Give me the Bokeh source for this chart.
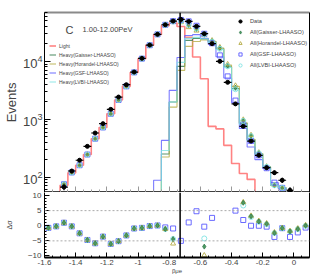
import numpy as np
from bokeh.plotting import figure
from bokeh.layouts import column
from bokeh.models import (Range1d, LinearAxis, Span, Label, Legend, LegendItem,
                          FixedTicker, NumeralTickFormatter)
from bokeh.embed import file_html
from bokeh.resources import INLINE

# ---------------- data ----------------
bin_centers = [-1.575, -1.525, -1.475, -1.425, -1.375, -1.325, -1.275, -1.225, -1.175,
               -1.125, -1.075, -1.025, -0.975, -0.925, -0.875, -0.825, -0.775, -0.725,
               -0.675, -0.625, -0.575, -0.525, -0.475, -0.425, -0.375, -0.325, -0.275,
               -0.225, -0.175, -0.125, -0.075, -0.025, 0.025, 0.075]
bin_width = 0.05

data_counts = [22, 38, 67, 127, 195, 339, 577, 838, 1479, 2415, 3950, 6530, 11270, 19140,
               29300, 43000, 49800, 53200, 49000, 40300, 30100, 20200, 10000, 4340, 1840,
               752, 419, 237, 145, 119, 88, 59, 40, 30]

light = [18, 35, 72, 118, 160, 245, 460, 720, 1240, 2150, 3700, 6450, 11150, 19000,
         29200, 41500, 46000, 40000, 26000, 11900, 5000, 752, 680, 353, 171, 115, 91, 1,
         1, 1, 1, 1, 1, 1]

heavy_gaisser = [0.1, 0.1, 0.1, 0.1, 0.1, 0.1, 0.1, 0.1, 0.1, 0.1, 0.1, 1, 3, 10,
                 40, 250, 1980, 8200, 23100, 25000, 24500, 21800, 16500, 8100, 3400,
                 840, 440, 250, 150, 72, 65, 50, 38, 35]
heavy_horandel = [0.1, 0.1, 0.1, 0.1, 0.1, 0.1, 0.1, 0.1, 0.1, 0.1, 0.1, 1, 3, 9,
                  35, 222, 1620, 7000, 18200, 22000, 23500, 22300, 17000, 8600, 3700,
                  870, 450, 255, 152, 73, 65, 50, 38, 35]
heavy_gsf = [0.1, 0.1, 0.1, 0.1, 0.1, 0.1, 0.1, 0.1, 0.1, 0.1, 0.1, 1, 5, 20,
             88, 430, 3150, 11700, 28000, 29000, 25000, 19800, 12000, 5150, 1930,
             690, 330, 200, 140, 80, 63, 40, 33, 30]
heavy_lvbi = [0.1, 0.1, 0.1, 0.1, 0.1, 0.1, 0.1, 0.1, 0.1, 0.1, 0.1, 1, 3, 11,
              45, 288, 1980, 9600, 25000, 26000, 24500, 21300, 16000, 7900, 3200,
              820, 430, 250, 150, 72, 65, 50, 38, 35]

all_gaisser = [18, 35, 75, 120, 160, 245, 460, 720, 1240, 2150, 3700, 6450, 11150, 19020,
               29320, 42770, 48800, 49000, 42000, 36000, 28900, 22500, 17000, 8400, 3500,
               950, 520, 260, 150, 72, 65, 50, 38, 35]
all_horandel = [18, 35, 75, 120, 160, 245, 460, 720, 1240, 2150, 3700, 6450, 11150, 19020,
                29320, 42770, 48500, 47500, 39000, 34000, 28400, 23000, 17500, 8900, 3800,
                980, 530, 265, 152, 73, 65, 50, 38, 35]
all_gsf = [18, 35, 75, 120, 160, 245, 460, 720, 1240, 2150, 3700, 6450, 11150, 19020,
           29320, 42890, 49600, 52050, 49240, 41260, 30050, 20570, 12700, 5500, 2100,
           805, 420, 237, 142, 80, 65, 40, 33, 30]
all_lvbi = [18, 35, 75, 120, 160, 245, 460, 720, 1240, 2150, 3700, 6450, 11150, 19020,
            29320, 42770, 48800, 49500, 43000, 37000, 29370, 22000, 16500, 8200, 3300,
            935, 510, 258, 150, 72, 65, 50, 38, 35]

nan = float("nan")
dsig_gaisser = [-0.7, -0.2, 1.0, -0.2, -2.5, -4.7, -5.8, -3.6, -6.0, -5.1, -3.2, -0.9, -0.7,
                -0.1, 0.1, -1.1, -4.4, nan, nan, nan, -6.9, nan, nan, nan, nan, 7.6, 3.1,
                1.4, 0.6, -2.4, -0.8, -1.9, -1.1, 0.0]
dsig_horandel = [-0.7, -0.2, 1.0, -0.2, -2.5, -4.7, -5.8, -3.6, -6.0, -5.1, -3.2, -0.9, -0.7,
                 -0.1, 0.1, -1.1, -5.9, nan, nan, nan, -9.8, nan, nan, nan, nan, 7.8, 3.3,
                 1.6, 0.8, -2.2, -0.7, -1.7, -0.9, 0.2]
dsig_gsf = [-0.7, -0.2, 1.0, -0.2, -2.5, -4.7, -5.8, -3.6, -6.0, -5.1, -3.2, -0.9, -0.7,
            -0.1, 0.1, -0.55, -0.9, -5.0, 1.1, 4.8, -0.3, 2.6, nan, nan, 5.0, 1.9, 0.0,
            0.0, -0.3, -3.7, -0.8, -3.7, -2.2, -0.6]
dsig_lvbi = [-0.7, -0.2, 1.0, -0.2, -2.5, -4.7, -5.8, -3.6, -6.0, -5.1, -3.2, -0.9, -0.7,
             -0.1, 0.1, -1.1, -4.4, nan, nan, nan, -4.2, nan, nan, nan, nan, 6.7, 2.9,
             1.3, 0.5, -2.4, -0.8, -1.9, -1.1, 0.0]

beta_cut = -0.73
x_ticks = [-1.6, -1.4, -1.2, -1.0, -0.8, -0.6, -0.4, -0.2, 0.0]
dsig_ticks = [-10, -5, 0, 5, 10]

# ---------------- style ----------------
FONT = "Liberation Sans"
C_LIGHT = "#ff5a5a"
C_GAI = "#2f7a4a"
C_HOR = "#b5ac45"
C_GSF = "#5a5aff"
C_LVBI = "#7fe3e3"

xc = np.array(bin_centers)
edges = list(xc - bin_width / 2) + [bin_centers[-1] + bin_width / 2]
minor_x = list(np.round(np.arange(-1.6, 0.1001, 0.05), 3))


def stepy(v):
    return list(v) + [v[-1]]


def frame_line_axis(color, width):
    return LinearAxis(major_tick_line_color=None, minor_tick_line_color=None,
                      major_tick_in=0, major_tick_out=0, minor_tick_in=0, minor_tick_out=0,
                      major_label_text_font_size="0px", major_label_standoff=0,
                      axis_line_color=color, axis_line_width=width)


p1 = figure(width=319, height=192, y_axis_type="log",
            x_range=Range1d(-1.6, 0.1), y_range=Range1d(54, 70000),
            output_backend="svg", toolbar_location=None,
            min_border_left=42, min_border_right=10, min_border_top=12, min_border_bottom=0)
p1.grid.visible = False
p1.outline_line_color = None

# histograms
r_light = p1.step(edges, stepy(light), mode="after", line_color=C_LIGHT, line_width=1.6, line_alpha=0.75)
r_hg = p1.step(edges, stepy(heavy_gaisser), mode="after", line_color=C_GAI, line_width=1.1, line_alpha=0.8)
r_hh = p1.step(edges, stepy(heavy_horandel), mode="after", line_color=C_HOR, line_width=1.1, line_alpha=0.8)
r_hs = p1.step(edges, stepy(heavy_gsf), mode="after", line_color=C_GSF, line_width=1.1, line_alpha=0.8)
r_hl = p1.step(edges, stepy(heavy_lvbi), mode="after", line_color=C_LVBI, line_width=1.1, line_alpha=0.8)

# model markers
m_g = p1.scatter(bin_centers, all_gaisser, marker="diamond", size=5, fill_color="#4d9a63", line_color=C_GAI, line_width=0.8)
m_h = p1.scatter(bin_centers, all_horandel, marker="triangle", size=5, fill_color=None, line_color=C_HOR, line_width=0.9)
m_s = p1.scatter(bin_centers, all_gsf, marker="square", size=5, fill_color=None, line_color=C_GSF, line_width=0.9)
m_l = p1.scatter(bin_centers, all_lvbi, marker="circle", size=5, fill_color=None, line_color=C_LVBI, line_width=0.9)

# data with errors
dc = np.array(data_counts, dtype=float)
err = np.sqrt(dc)
p1.segment(xc - bin_width / 2, dc, xc + bin_width / 2, dc, line_color="black", line_width=1.2)
p1.segment(xc, dc - err, xc, dc + err, line_color="black", line_width=1.2)
m_d = p1.scatter(bin_centers, data_counts, marker="circle", size=4, fill_color="black", line_color="black")

p1.add_layout(Span(location=beta_cut, dimension="height", line_color="black", line_width=1.5))

# axes
p1.yaxis.major_tick_in = 6
p1.yaxis.major_tick_out = 0
p1.yaxis.minor_tick_in = 3
p1.yaxis.minor_tick_out = 0
p1.yaxis.major_label_text_font = FONT
p1.yaxis.major_label_text_font_size = "13px"
p1.yaxis.major_label_standoff = 2
p1.yaxis.axis_line_color = "black"
p1.yaxis.axis_label = "Events"
p1.yaxis.axis_label_text_font = FONT
p1.yaxis.axis_label_text_font_size = "13px"
p1.yaxis.axis_label_text_font_style = "normal"
p1.yaxis.axis_label_standoff = 1

p1.xaxis.ticker = FixedTicker(ticks=x_ticks, minor_ticks=minor_x)
p1.xaxis.major_label_text_font_size = "0px"
p1.xaxis.major_label_standoff = 0
p1.xaxis.major_tick_in = 6
p1.xaxis.major_tick_out = 0
p1.xaxis.minor_tick_in = 3
p1.xaxis.minor_tick_out = 0
p1.xaxis.major_tick_line_color = "#999999"
p1.xaxis.minor_tick_line_color = "#999999"
p1.xaxis.axis_line_width = 2.5

p1.add_layout(frame_line_axis("#8a8a8a", 2), "above")
p1.add_layout(frame_line_axis("black", 1), "right")

# texts
p1.add_layout(Label(x=21, y=163, x_units="screen", y_units="screen", text="C",
                    text_font=FONT, text_font_size="11px", text_baseline="alphabetic"))
p1.add_layout(Label(x=38, y=163, x_units="screen", y_units="screen", text="1.00-12.00PeV",
                    text_font=FONT, text_font_size="7.5px", text_baseline="alphabetic"))

# legends
leg1 = Legend(items=[LegendItem(label="Light", renderers=[r_light]),
                     LegendItem(label="Heavy(Gaisser-LHAASO)", renderers=[r_hg]),
                     LegendItem(label="Heavy(Horandel-LHAASO)", renderers=[r_hh]),
                     LegendItem(label="Heavy(GSF-LHAASO)", renderers=[r_hs]),
                     LegendItem(label="Heavy(LVBI-LHAASO)", renderers=[r_hl])],
              location=(5, 107), label_text_font=FONT, label_text_font_size="5px",
              glyph_width=7, glyph_height=7, label_height=7, spacing=2, padding=0, margin=0,
              label_standoff=3, background_fill_alpha=0, border_line_alpha=0)
leg2 = Legend(items=[LegendItem(label="Data", renderers=[m_d]),
                     LegendItem(label="All(Gaisser-LHAASO)", renderers=[m_g]),
                     LegendItem(label="All(Horandel-LHAASO)", renderers=[m_h]),
                     LegendItem(label="All(GSF-LHAASO)", renderers=[m_s]),
                     LegendItem(label="All(LVBI-LHAASO)", renderers=[m_l])],
              location=(192, 123), label_text_font=FONT, label_text_font_size="5.6px",
              glyph_width=8, glyph_height=8, label_height=8, spacing=3, padding=0, margin=0,
              label_standoff=6, background_fill_alpha=0, border_line_alpha=0)
p1.add_layout(leg1)
p1.add_layout(leg2)

# ---------------- bottom panel ----------------
p2 = figure(width=319, height=84, x_range=p1.x_range, y_range=Range1d(-10.5, 11),
            output_backend="svg", toolbar_location=None,
            min_border_left=42, min_border_right=10, min_border_top=0, min_border_bottom=19)
p2.grid.visible = False
p2.outline_line_color = None

for loc in (5, -5):
    p2.add_layout(Span(location=loc, dimension="width", line_color="#aaaaaa", line_dash="2 2", line_width=1))
p2.add_layout(Span(location=beta_cut, dimension="height", line_color="black", line_width=1.5))

p2.scatter(bin_centers, dsig_gsf, marker="square", size=5, fill_color=None, line_color=C_GSF, line_width=0.9)
p2.scatter(bin_centers, dsig_lvbi, marker="circle", size=5, fill_color=None, line_color=C_LVBI, line_width=0.9)
p2.scatter(bin_centers, dsig_horandel, marker="triangle", size=5, fill_color=None, line_color=C_HOR, line_width=0.9)
p2.scatter(bin_centers, dsig_gaisser, marker="diamond", size=5, fill_color="#4d9a63", line_color=C_GAI, line_width=0.8)

p2.xaxis.ticker = FixedTicker(ticks=x_ticks, minor_ticks=minor_x)
p2.xaxis.formatter = NumeralTickFormatter(format="0.[0]")
p2.xaxis.major_label_text_font = FONT
p2.xaxis.major_label_text_font_size = "8px"
p2.xaxis.major_label_standoff = 2
p2.xaxis.major_tick_in = 5
p2.xaxis.major_tick_out = 0
p2.xaxis.minor_tick_in = 2
p2.xaxis.minor_tick_out = 0
p2.xaxis.axis_line_width = 2
p2.xaxis.axis_label = "βμe"
p2.xaxis.axis_label_text_font = FONT
p2.xaxis.axis_label_text_font_size = "6px"
p2.xaxis.axis_label_text_font_style = "normal"
p2.xaxis.axis_label_standoff = 0

p2.yaxis.ticker = FixedTicker(ticks=dsig_ticks, minor_ticks=list(range(-10, 11)))
p2.yaxis.major_label_text_font = FONT
p2.yaxis.major_label_text_font_size = "8px"
p2.yaxis.major_label_standoff = 3
p2.yaxis.major_tick_in = 5
p2.yaxis.major_tick_out = 0
p2.yaxis.minor_tick_in = 2
p2.yaxis.minor_tick_out = 0
p2.yaxis.axis_label = "Δσ"
p2.yaxis.axis_label_text_font = FONT
p2.yaxis.axis_label_text_font_size = "7px"
p2.yaxis.axis_label_text_font_style = "normal"
p2.yaxis.axis_label_standoff = 12

p2.add_layout(frame_line_axis("black", 1), "right")

layout = column(p1, p2, spacing=0)
open("out.html", "w").write(file_html(layout, INLINE))
